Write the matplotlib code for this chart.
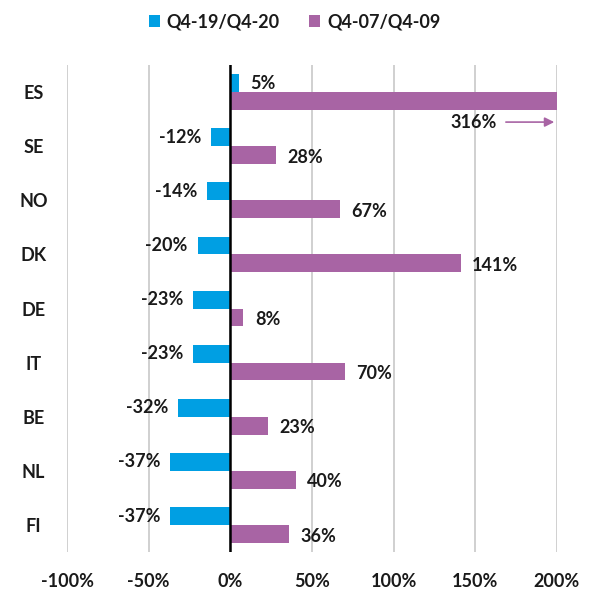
import numpy as np
import matplotlib as mpl
import matplotlib.pyplot as plt

# data
countries = ["ES", "SE", "NO", "DK", "DE", "IT", "BE", "NL", "FI"]
covid = [5, -12, -14, -20, -23, -23, -32, -37, -37]        # Q4-19/Q4-20
gfc = [316, 28, 67, 141, 8, 70, 23, 40, 36]                 # Q4-07/Q4-09
xTicks = [-100, -50, 0, 50, 100, 150, 200]
xMax = 200

blue = "#009FE3"
purple = "#A864A4"
ink = "#1a1a1a"
fs = 13

plt.rcParams['font.family'] = ['Lato', 'DejaVu Sans']
plt.rcParams['font.weight'] = 'bold'

fig = plt.figure(figsize=(5.89, 5.89), dpi=100)
ax = fig.add_axes([67/589, 1 - 552/589, 490/589, 487/589])

n = len(countries)
ys = np.arange(n)
h = 0.33

bluePos = ys - h / 2
purplePos = ys + h / 2
gfcShown = [min(v, xMax) for v in gfc]

ax.barh(bluePos, covid, height=h, color=blue, label="Q4-19/Q4-20", zorder=3)
ax.barh(purplePos, gfcShown, height=h, color=purple, label="Q4-07/Q4-09", zorder=3)

for y, v in zip(bluePos, covid):
    if v >= 0:
        ax.text(v + 7, y, "%d%%" % v, ha='left', va='center', fontsize=fs, fontweight='bold', color=ink)
    else:
        ax.text(v - 6, y, "%d%%" % v, ha='right', va='center', fontsize=fs, fontweight='bold', color=ink)

for y, v, s in zip(purplePos, gfc, gfcShown):
    if v > xMax:
        # bar cut at the axis end: label under it with an arrow
        ax.annotate("", xy=(xMax, y + 0.39), xytext=(167, y + 0.39),
                    arrowprops=dict(arrowstyle='-|>', color=purple, lw=1.2, mutation_scale=14),
                    zorder=4)
        ax.text(163, y + 0.39, "%d%%" % v, ha='right', va='center', fontsize=fs, fontweight='bold', color=ink)
    else:
        ax.text(s + 7, y + 0.04, "%d%%" % v, ha='left', va='center', fontsize=fs, fontweight='bold', color=ink)

ax.axvline(0, color='black', lw=1.8, zorder=4)

ax.set_xlim(-100, xMax)
ax.set_ylim(n - 0.5, -0.5)
ax.set_xticks(xTicks)
ax.set_xticklabels(["%d%%" % t for t in xTicks], fontsize=fs, fontweight='bold')
ax.set_yticks(ys)
ax.set_yticklabels(countries, fontsize=fs, fontweight='bold')
ax.tick_params(axis='both', length=0, colors=ink)
ax.tick_params(axis='x', pad=15)
for lab in ax.get_yticklabels():
    lab.set_ha('center')
ax.tick_params(axis='y', pad=24)

ax.grid(axis='x', color='#c8c8c8', lw=1.2, zorder=0)
for sp in ax.spines.values():
    sp.set_visible(False)

leg = fig.legend(loc='upper center', bbox_to_anchor=(0.5, 1.005), ncol=2, frameon=False,
                 prop={'family': ['Lato', 'DejaVu Sans'], 'weight': 'bold', 'size': fs},
                 handlelength=0.6, handleheight=0.6, handletextpad=0.4,
                 columnspacing=1.6)
for t in leg.get_texts():
    t.set_color(ink)

plt.savefig("out.png", dpi=100)
